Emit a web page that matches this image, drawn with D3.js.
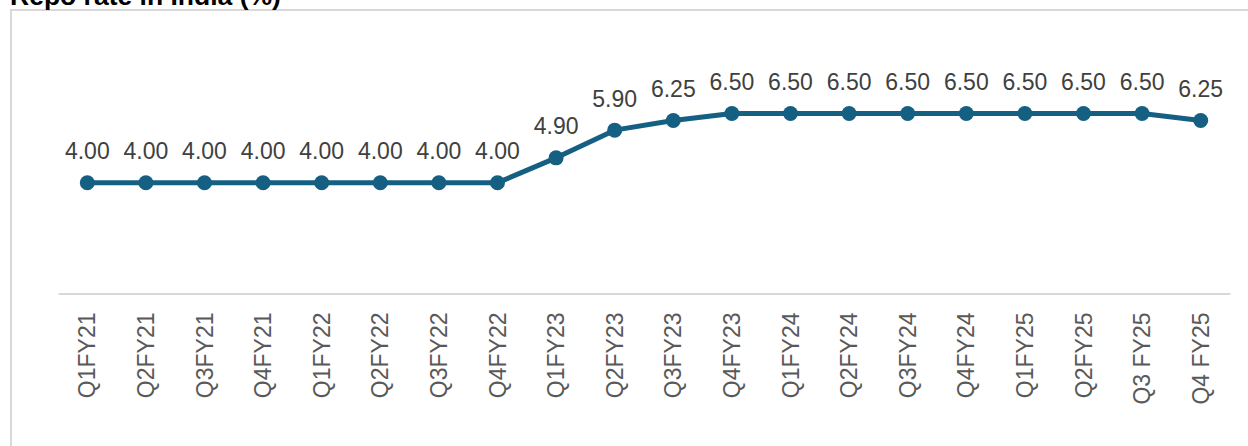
<!DOCTYPE html>
<html>
<head>
<meta charset="utf-8">
<script src="https://cdn.jsdelivr.net/npm/d3@7"></script>
<style>
  html, body { margin: 0; padding: 0; background: #ffffff; }
  svg { display: block; }
  text { font-family: "Liberation Sans", Arial, sans-serif; }
</style>
</head>
<body>
<svg id="chart" width="1248" height="446"></svg>
<script>
const categories = ["Q1FY21","Q2FY21","Q3FY21","Q4FY21","Q1FY22","Q2FY22","Q3FY22","Q4FY22",
  "Q1FY23","Q2FY23","Q3FY23","Q4FY23","Q1FY24","Q2FY24","Q3FY24","Q4FY24","Q1FY25","Q2FY25","Q3 FY25","Q4 FY25"];
const repoRate = [4.00,4.00,4.00,4.00,4.00,4.00,4.00,4.00,4.90,5.90,6.25,6.50,6.50,6.50,6.50,6.50,6.50,6.50,6.50,6.25];
const yDomain = [0, 8];
const title = "Repo rate in India (%)";

const svg = d3.select("#chart");

// outer chart border
svg.append("rect")
  .attr("x", 11).attr("y", 10)
  .attr("width", 1260).attr("height", 460)
  .attr("fill", "none").attr("stroke", "#d9d9d9").attr("stroke-width", 2);

// title (partially cut off at top)
svg.append("text")
  .attr("x", 10).attr("y", 5)
  .attr("font-size", "26.5px").attr("font-weight", "bold")
  .attr("fill", "#000000")
  .text(title);

const x = d3.scaleBand().domain(categories).range([58, 1230]).padding(0);
const y = d3.scaleLinear().domain(yDomain).range([293.5, 72]);

// category axis
const xAxis = d3.axisBottom(x).tickSize(0).tickPadding(0);
const gx = svg.append("g").attr("transform", `translate(0,${y(0)})`).call(xAxis);
gx.select(".domain").attr("stroke", "#d9d9d9").attr("stroke-width", 2);
gx.selectAll(".tick text")
  .attr("transform", "rotate(-90)")
  .attr("x", -19).attr("y", 0).attr("dy", "0.35em")
  .attr("text-anchor", "end")
  .attr("font-size", "23px")
  .attr("font-family", "Liberation Sans, Arial, sans-serif")
  .attr("fill", "#595959");

const cx = d => x(d) + x.bandwidth() / 2;

// line
const line = d3.line()
  .x((d, i) => cx(categories[i]))
  .y(d => y(d));
svg.append("path")
  .datum(repoRate)
  .attr("d", line)
  .attr("fill", "none")
  .attr("stroke", "#156082")
  .attr("stroke-width", 5)
  .attr("stroke-linejoin", "round");

// markers
svg.selectAll("circle.pt")
  .data(repoRate)
  .join("circle")
  .attr("class", "pt")
  .attr("cx", (d, i) => cx(categories[i]))
  .attr("cy", d => y(d))
  .attr("r", 7.5)
  .attr("fill", "#156082");

// data labels
svg.selectAll("text.lbl")
  .data(repoRate)
  .join("text")
  .attr("class", "lbl")
  .attr("x", (d, i) => cx(categories[i]))
  .attr("y", d => y(d) - 23.5)
  .attr("text-anchor", "middle")
  .attr("font-size", "23px")
  .attr("fill", "#404040")
  .text(d => d.toFixed(2));
</script>
</body>
</html>
